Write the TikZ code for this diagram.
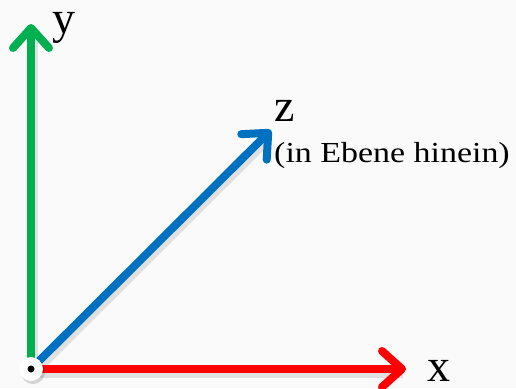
\documentclass[tikz,border=0pt]{standalone}
\usepackage{fontspec}
\setmainfont{Liberation Serif}
\usetikzlibrary{arrows.meta}

\begin{document}
\begin{tikzpicture}[
    x=1pt, y=-1pt,
    axis/.style={line width=8pt,
      -{Straight Barb[length=20pt,width=36pt,line cap=round,line join=round]}},
    shade/.style={line width=7pt, black, opacity=0.10, shorten >=6pt},
    axislabel/.style={font=\fontsize{46}{46}\selectfont, inner sep=0pt, anchor=base},
    origin/.style={circle,fill=white,minimum size=24pt,inner sep=0pt}
  ]
    % background
    \fill[gray!4] (0,0) rectangle (516,388);
    \useasboundingbox (0,0) rectangle (516,388);

    % axis tips
    \coordinate (O) at (31,369);
    \coordinate (ytip) at (31,24);
    \coordinate (xtip) at (406,369);
    \coordinate (ztip) at (271,130);

    % shadows
    \draw[shade] ([shift={(3,5)}]O) -- ([shift={(3,5)}]ytip);
    \draw[shade] ([shift={(3,5)}]O) -- ([shift={(3,5)}]xtip);
    \draw[shade] ([shift={(3,5)}]O) -- ([shift={(3,5)}]ztip);

    % axes
    \draw[axis, color={rgb,255:red,0;green,176;blue,80}] (O) -- (ytip);
    \draw[axis, color={rgb,255:red,255;green,0;blue,0}] (O) -- (xtip);
    \draw[axis, color={rgb,255:red,0;green,112;blue,192}] (O) -- (ztip);

    % labels
    \node[axislabel] (ylab) at (64,33) {y};
    \node[axislabel] (xlab) at (439,381) {x};
    \node[axislabel] (zlab) at (285,121) {z};
    \node[anchor=base west, inner sep=0pt, font=\fontsize{29}{29}\selectfont] (zinfo) at (274,162) {\scalebox{1.17}[1]{(in Ebene hinein)}};

    % origin marker
    \fill[black, opacity=0.15] (33,372) circle (12pt);
    \node[origin] (orig) at (O) {};
    \fill (O) circle (3.5pt);
  \end{tikzpicture}
\end{document}
